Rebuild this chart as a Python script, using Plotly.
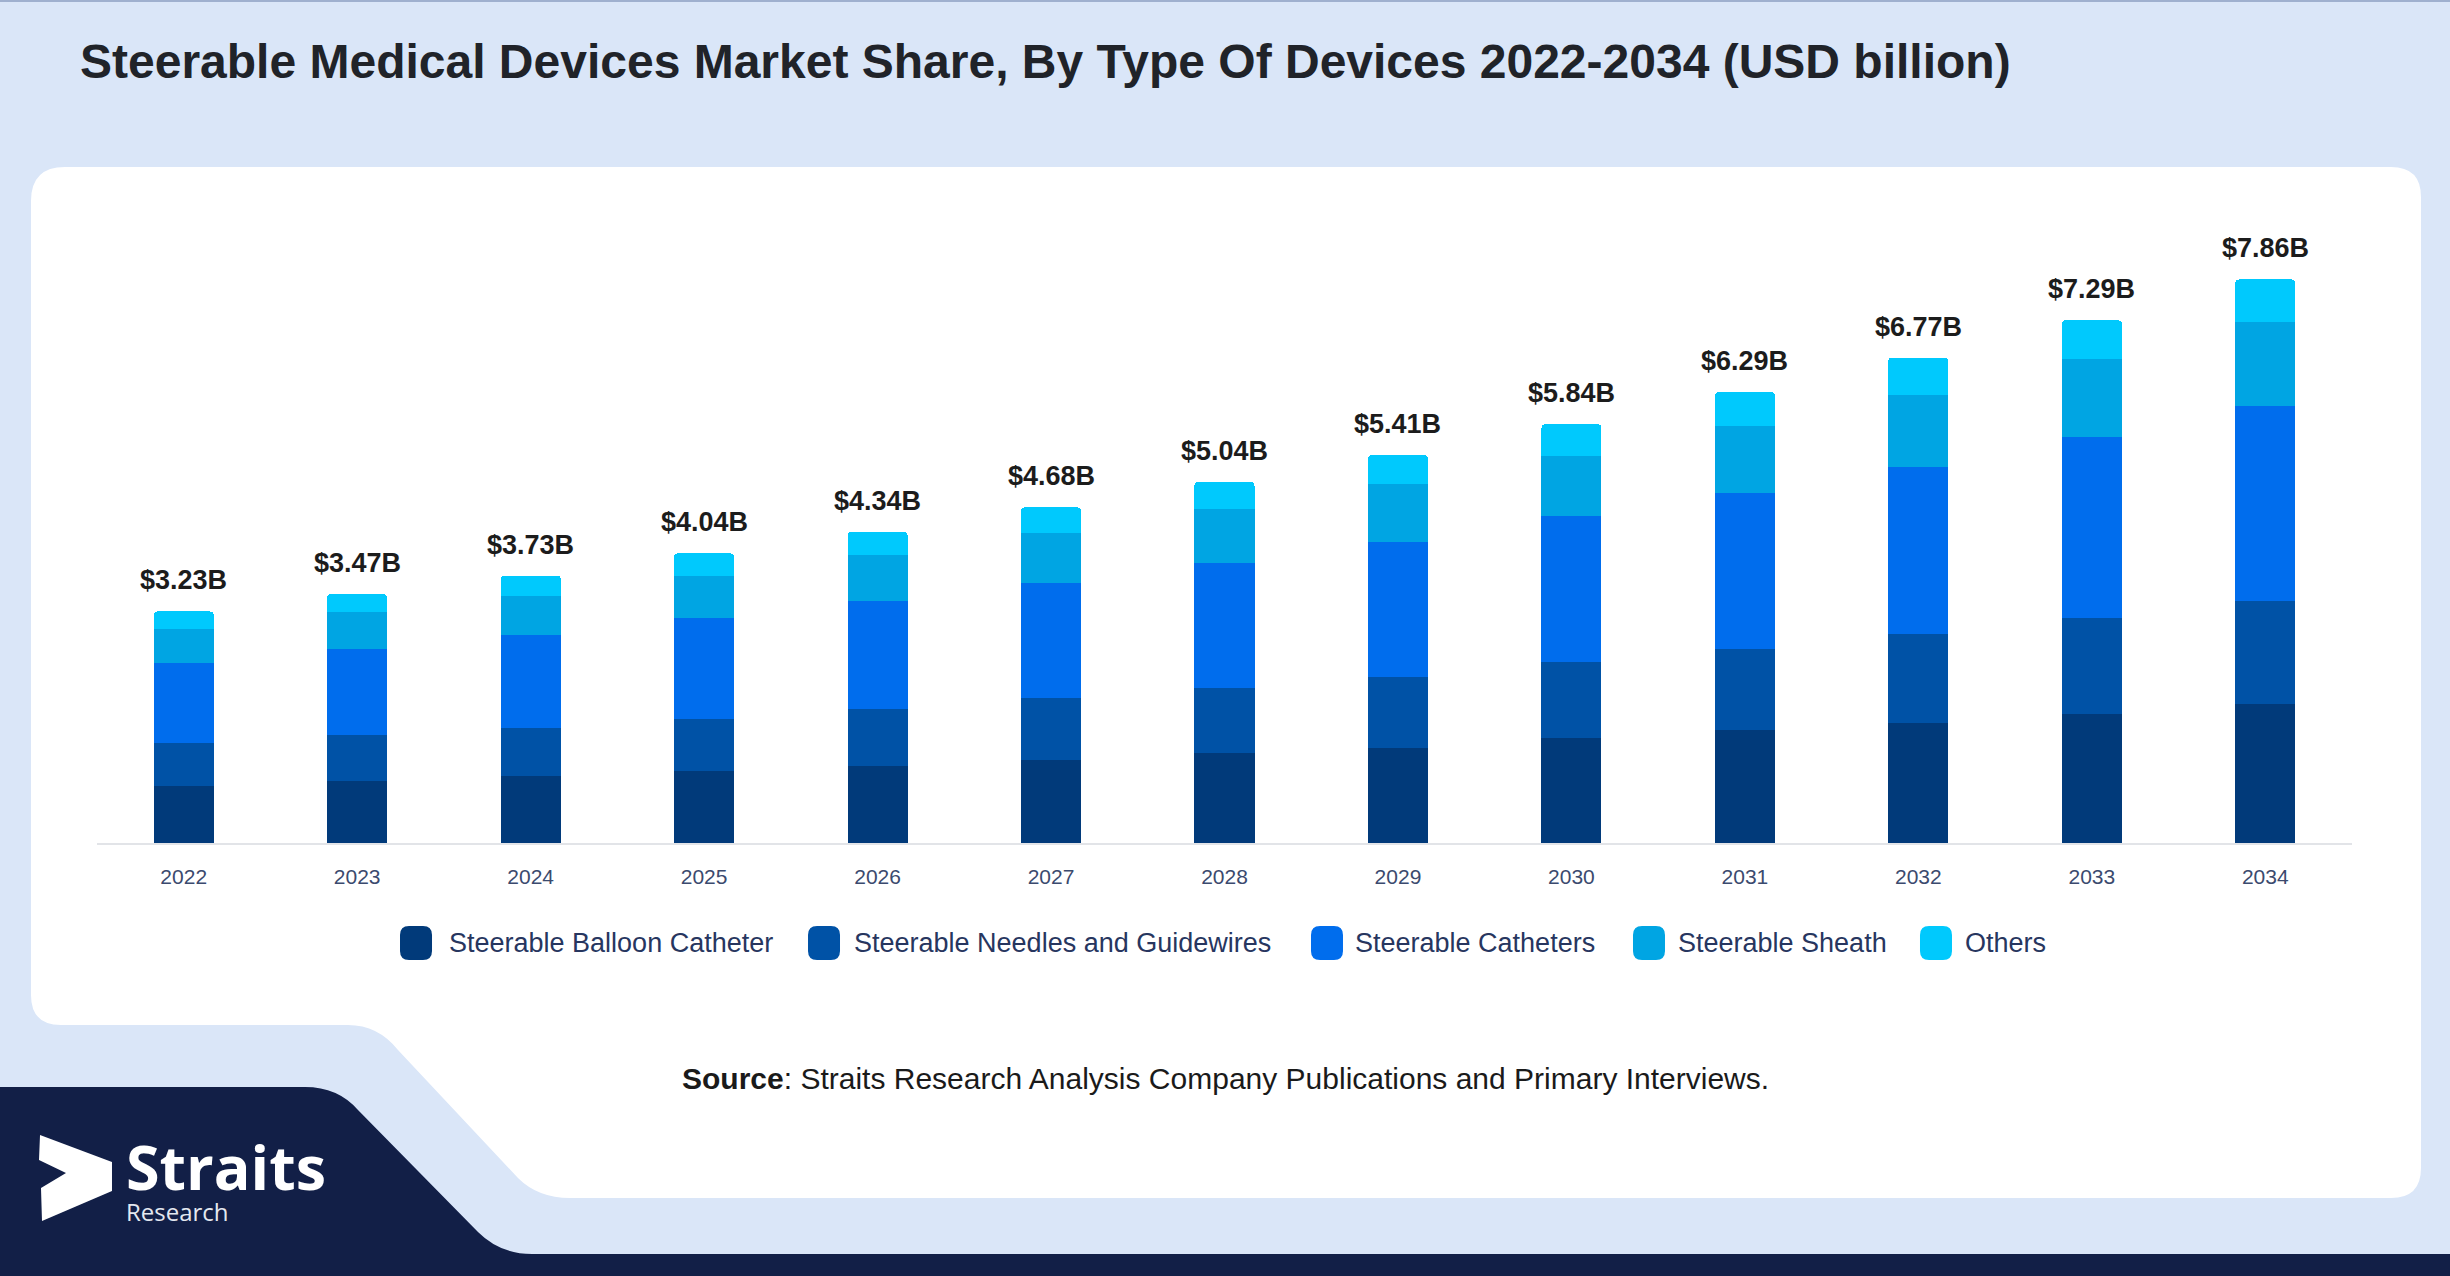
import plotly.graph_objects as go

# data (USD billion)

years = ["2022", "2023", "2024", "2025", "2026", "2027", "2028",
         "2029", "2030", "2031", "2032", "2033", "2034"]

series_names = [
    "Steerable Balloon Catheter",
    "Steerable Needles and Guidewires",
    "Steerable Catheters",
    "Steerable Sheath",
    "Others",
]

balloon = [0.80, 0.86, 0.93, 1.00, 1.08, 1.16, 1.25, 1.33, 1.46, 1.57, 1.67, 1.80, 1.94]
needles = [0.59, 0.64, 0.68, 0.73, 0.79, 0.86, 0.91, 0.99, 1.07, 1.14, 1.25, 1.34, 1.44]
catheters = [1.12, 1.21, 1.29, 1.41, 1.51, 1.61, 1.75, 1.88, 2.03, 2.17, 2.33, 2.52, 2.71]
sheath = [0.48, 0.51, 0.55, 0.59, 0.63, 0.69, 0.75, 0.80, 0.84, 0.93, 1.00, 1.09, 1.17]
others = [0.24, 0.25, 0.28, 0.31, 0.33, 0.36, 0.38, 0.41, 0.44, 0.48, 0.52, 0.54, 0.60]

totals = [3.23, 3.47, 3.73, 4.04, 4.34, 4.68, 5.04, 5.41, 5.84, 6.29, 6.77, 7.29, 7.86]

series_values = [balloon, needles, catheters, sheath, others]

# STYLE

W, H = 2450, 1276
FONT = "Liberation Sans, Arial, sans-serif"
BG = "#dae6f8"
NAVY = "#121f47"

colors = ["#013a7a", "#0052a6", "#006ded", "#00a5e3", "#00c9fd"]


def pt(x, y):
    # pixel position (y down) -> paper fraction
    return f"{x / W:.5f},{1 - y / H:.5f}"


def rrect(x0, y0, x1, y1, r):
    return (
        f"M{pt(x0 + r, y0)} L{pt(x1 - r, y0)} Q{pt(x1, y0)} {pt(x1, y0 + r)} "
        f"L{pt(x1, y1 - r)} Q{pt(x1, y1)} {pt(x1 - r, y1)} "
        f"L{pt(x0 + r, y1)} Q{pt(x0, y1)} {pt(x0, y1 - r)} "
        f"L{pt(x0, y0 + r)} Q{pt(x0, y0)} {pt(x0 + r, y0)} Z"
    )


fig = go.Figure()

for name, vals, col in zip(series_names, series_values, colors):
    fig.add_trace(
        go.Bar(
            x=years,
            y=vals,
            name=name,
            marker=dict(color=col, line=dict(width=0)),
            showlegend=False,
            hovertemplate="%{x}<br>" + name + ": $%{y:.2f}B<extra></extra>",
        )
    )

# total labels above each stack (category index on the x axis)
annotations = []
for i, tot in enumerate(totals):
    annotations.append(dict(
        x=i, y=tot, xref="x", yref="y",
        text=f"<b>${tot:.2f}B</b>",
        showarrow=False, yanchor="bottom", yshift=14,
        font=dict(family=FONT, size=27, color="#1c1c1c"),
    ))

# background card and footer shapes
card = (
    f"M{pt(65, 167)} L{pt(2391, 167)} Q{pt(2421, 167)} {pt(2421, 197)} "
    f"L{pt(2421, 1168)} Q{pt(2421, 1198)} {pt(2391, 1198)} "
    f"L{pt(570, 1198)} Q{pt(538, 1198)} {pt(518, 1178)} "
    f"L{pt(398, 1050)} Q{pt(378, 1025)} {pt(348, 1025)} "
    f"L{pt(61, 1025)} Q{pt(31, 1025)} {pt(31, 995)} "
    f"L{pt(31, 201)} Q{pt(31, 167)} {pt(65, 167)} Z"
)
footer = (
    f"M{pt(0, 1087)} L{pt(305, 1087)} Q{pt(338, 1087)} {pt(358, 1110)} "
    f"L{pt(478, 1232)} Q{pt(500, 1254)} {pt(532, 1254)} "
    f"L{pt(2450, 1254)} L{pt(2450, 1276)} L{pt(0, 1276)} Z"
)
logo_icon = (
    f"M{pt(40, 1135)} L{pt(112, 1162)} L{pt(112, 1191)} L{pt(42, 1221)} "
    f"L{pt(41, 1188)} L{pt(66, 1173)} L{pt(39, 1160)} Z"
)

shapes = [
    dict(type="path", path=card, xref="paper", yref="paper",
         fillcolor="white", line=dict(width=0), layer="below"),
    dict(type="path", path=footer, xref="paper", yref="paper",
         fillcolor=NAVY, line=dict(width=0), layer="below"),
    dict(type="path", path=logo_icon, xref="paper", yref="paper",
         fillcolor="white", line=dict(width=0), layer="above"),
    dict(type="line", xref="paper", yref="paper", x0=0, x1=1,
         y0=1 - 1 / H, y1=1 - 1 / H, line=dict(color="#9fb0cf", width=2)),
]

# legend drawn by hand (big rounded swatches)
swatch_left = [400, 808, 1311, 1633, 1920]
text_left = [447, 852, 1353, 1676, 1963]
LEG_Y = 943
for name, col, sx, tx in zip(series_names, colors, swatch_left, text_left):
    shapes.append(dict(
        type="path", path=rrect(sx, LEG_Y - 17, sx + 32, LEG_Y + 17, 9),
        xref="paper", yref="paper", fillcolor=col, line=dict(width=0),
    ))
    annotations.append(dict(
        x=tx / W, y=1 - LEG_Y / H, xref="paper", yref="paper",
        text=name, showarrow=False, xanchor="left", yanchor="middle",
        font=dict(family=FONT, size=27, color="#27365f"),
    ))

# title, source, logo text
annotations += [
    dict(x=78 / W, y=1 - 62 / H, xref="paper", yref="paper",
         text="<b>Steerable Medical Devices Market Share, By Type Of Devices 2022-2034 (USD billion)</b>",
         showarrow=False, xanchor="left", yanchor="middle",
         font=dict(family=FONT, size=48, color="#202329")),
    dict(x=1225 / W, y=1 - 1078 / H, xref="paper", yref="paper",
         text="<b>Source</b>: Straits Research Analysis Company Publications and Primary Interviews.",
         showarrow=False, xanchor="center", yanchor="middle",
         font=dict(family=FONT, size=30, color="#1a1a1a")),
    dict(x=124 / W, y=1 - 1176 / H, xref="paper", yref="paper",
         text="<span style='font-size:61px;color:white'><b>Straits</b></span><br>Research",
         showarrow=False, xanchor="left", yanchor="middle", align="left",
         font=dict(family="Open Sans, sans-serif", size=24, color="#e4e8f0")),
]

fig.update_layout(
    width=W,
    height=H,
    margin=dict(l=0, r=0, t=0, b=0, pad=0),
    paper_bgcolor=BG,
    plot_bgcolor="rgba(0,0,0,0)",
    barmode="stack",
    bargap=0.654,
    barcornerradius=4,
    showlegend=False,
    font=dict(family=FONT),
    xaxis=dict(
        type="category",
        range=[-0.5, len(years) - 0.5],
        domain=[97 / W, 2352 / W],
        automargin=False,
        showline=True,
        linecolor="#e2e4e8",
        linewidth=2,
        showgrid=False,
        ticks="outside",
        ticklen=14,
        tickcolor="rgba(0,0,0,0)",
        tickfont=dict(family=FONT, size=21, color="#3b4a6e"),
        fixedrange=True,
    ),
    yaxis=dict(
        visible=False,
        automargin=False,
        range=[0, 9],
        domain=[(H - 843) / H, (H - 197.7) / H],
        fixedrange=True,
    ),
    shapes=shapes,
    annotations=annotations,
)

fig.write_html(
    "out.html",
    config={"displayModeBar": False},
    post_script="document.body.style.margin='0';document.body.style.overflow='hidden';",
)
